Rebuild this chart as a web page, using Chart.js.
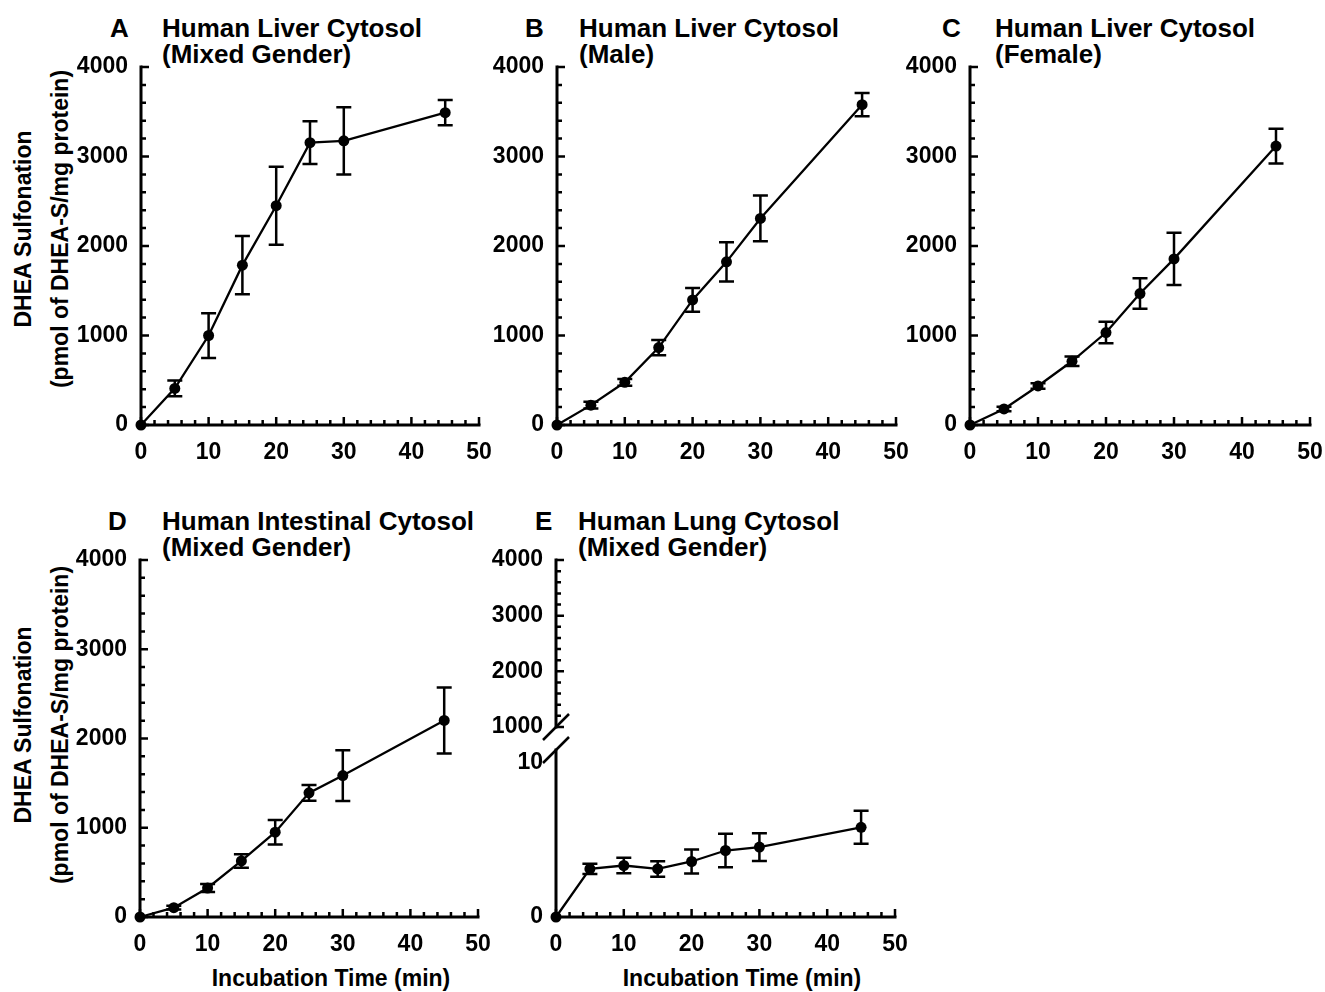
<!DOCTYPE html>
<html>
<head>
<meta charset="utf-8">
<title>DHEA Sulfonation time course</title>
<script src="https://cdn.jsdelivr.net/npm/chart.js@4.4.0/dist/chart.umd.min.js"></script>
<style>
  body { margin: 0; background: #fff; width: 1325px; height: 992px; position: relative; overflow: hidden;
         font-family: "Liberation Sans", Arial, Helvetica, sans-serif; font-weight: bold; color: #000; }
  .box { position: absolute; }
  .lbl { position: absolute; font-size: 26px; line-height: 26px; white-space: nowrap; }
  .ytitle { position: absolute; width: 420px; font-size: 23px; line-height: 37px; text-align: center;
            transform: translate(-50%, -50%) rotate(-90deg); white-space: nowrap; }
  .xtitle { position: absolute; font-size: 23px; line-height: 23px; transform: translateX(-50%); white-space: nowrap; }
</style>
</head>
<body>

<div class="lbl" style="left:110px; top:15px">A</div>
<div class="lbl" style="left:162px; top:15px">Human Liver Cytosol<br>(Mixed Gender)</div>
<div class="lbl" style="left:525px; top:15px">B</div>
<div class="lbl" style="left:579px; top:15px">Human Liver Cytosol<br>(Male)</div>
<div class="lbl" style="left:942px; top:15px">C</div>
<div class="lbl" style="left:995px; top:15px">Human Liver Cytosol<br>(Female)</div>
<div class="lbl" style="left:108px; top:508px">D</div>
<div class="lbl" style="left:162px; top:508px">Human Intestinal Cytosol<br>(Mixed Gender)</div>
<div class="lbl" style="left:535px; top:508px">E</div>
<div class="lbl" style="left:578px; top:508px">Human Lung Cytosol<br>(Mixed Gender)</div>

<div class="ytitle" style="left:42px; top:229px">DHEA Sulfonation<br>(pmol of DHEA-S/mg protein)</div>
<div class="ytitle" style="left:42px; top:725px">DHEA Sulfonation<br>(pmol of DHEA-S/mg protein)</div>
<div class="xtitle" style="left:331px; top:967px">Incubation Time (min)</div>
<div class="xtitle" style="left:742px; top:967px">Incubation Time (min)</div>

<script>
// incubation times (min)
const times = [0, 5, 10, 15, 20, 25, 30, 45];

// pmol DHEA-S / mg protein, mean and error
const liverMixed = [0, 409, 1000, 1786, 2450, 3155, 3175, 3490];
const liverMixedErr = [0, 88, 250, 325, 435, 240, 375, 140];
const liverMale = [0, 222, 477, 865, 1398, 1823, 2308, 3579];
const liverMaleErr = [0, 38, 38, 85, 134, 220, 255, 130];
const liverFemale = [0, 179, 436, 712, 1033, 1469, 1856, 3117];
const liverFemaleErr = [0, 25, 30, 52, 120, 170, 292, 194];
const intestMixed = [0, 105, 325, 628, 950, 1391, 1585, 2202];
const intestMixedErr = [0, 20, 45, 75, 137, 88, 284, 370];
const lungMixed = [0, 3.11, 3.33, 3.11, 3.59, 4.30, 4.52, 5.80];
const lungMixedErr = [0, 0.33, 0.5, 0.5, 0.78, 1.08, 0.9, 1.07];

// tick labels
const xTicks = [0, 10, 20, 30, 40, 50];
const yTicks = [0, 1000, 2000, 3000, 4000];
const yTicksUpper = [1000, 2000, 3000, 4000];
const yTicksLung = [0, 10];

const FONT = '"Liberation Sans", Arial, Helvetica, sans-serif';
Chart.defaults.font.family = FONT;
Chart.defaults.color = '#000';

// axis lines with inward ticks, plus the break slash for panel E
const axisPlugin = {
  id: 'sciAxes',
  beforeDatasetsDraw(chart, args, opts) {
    const ctx = chart.ctx;
    const xs = chart.scales.x, ys = chart.scales.y;
    const x0 = xs.getPixelForValue(xs.min), x1 = xs.getPixelForValue(xs.max);
    const y0 = ys.getPixelForValue(ys.min), y1 = ys.getPixelForValue(ys.max);
    ctx.save();
    ctx.strokeStyle = '#000';
    ctx.lineWidth = 3;
    ctx.lineCap = 'square';
    ctx.beginPath();
    ctx.moveTo(x0, y1);
    ctx.lineTo(x0, y0);
    if (opts.showX) ctx.lineTo(x1, y0);
    ctx.stroke();

    ctx.lineWidth = 2.5;
    ctx.lineCap = 'butt';
    ctx.beginPath();
    if (opts.showX) {
      for (let v = xs.min; v <= xs.max; v += 2) {
        const len = v % 10 === 0 ? 8 : 5;
        const px = xs.getPixelForValue(v);
        ctx.moveTo(px, y0);
        ctx.lineTo(px, y0 - len);
      }
    }
    if (opts.yMinor) {
      for (let v = ys.min; v <= ys.max; v += opts.yMinor) {
        const len = v % 1000 === 0 ? 8 : 5;
        const py = ys.getPixelForValue(v);
        ctx.moveTo(x0, py);
        ctx.lineTo(x0 + len, py);
      }
    }
    ctx.stroke();

    if (opts.breakAt) {
      const py = opts.breakAt === 'bottom' ? y0 : y1;
      ctx.beginPath();
      ctx.moveTo(x0 - 13, py + 13);
      ctx.lineTo(x0 + 13, py - 13);
      ctx.stroke();
    }
    ctx.restore();
  }
};

const errorBarPlugin = {
  id: 'errorBars',
  afterDatasetsDraw(chart) {
    const ctx = chart.ctx;
    const xs = chart.scales.x, ys = chart.scales.y;
    chart.data.datasets.forEach(ds => {
      if (!ds.errors) return;
      ctx.save();
      ctx.strokeStyle = '#000';
      ctx.lineWidth = 2.5;
      ds.data.forEach((p, i) => {
        const e = ds.errors[i];
        if (!e) return;
        const px = xs.getPixelForValue(p.x);
        const top = ys.getPixelForValue(p.y + e);
        const bot = ys.getPixelForValue(p.y - e);
        ctx.beginPath();
        ctx.moveTo(px, top); ctx.lineTo(px, bot);
        ctx.moveTo(px - 7.5, top); ctx.lineTo(px + 7.5, top);
        ctx.moveTo(px - 7.5, bot); ctx.lineTo(px + 7.5, bot);
        ctx.stroke();
      });
      ctx.restore();
    });
  }
};

function makePanel(area, opt) {
  const showX = opt.showX !== false;
  const padL = 75, padR = 30, padT = 20, padB = showX ? 45 : 30;
  const wrap = document.createElement('div');
  wrap.className = 'box';
  wrap.style.left = (area.l - padL) + 'px';
  wrap.style.top = (area.t - padT) + 'px';
  wrap.style.width = (area.r - area.l + padL + padR) + 'px';
  wrap.style.height = (area.b - area.t + padT + padB) + 'px';
  const canvas = document.createElement('canvas');
  wrap.appendChild(canvas);
  document.body.appendChild(wrap);

  const datasets = [];
  if (opt.values) {
    datasets.push({
      data: times.map((t, i) => ({ x: t, y: opt.values[i] })),
      errors: opt.errors,
      borderColor: '#000',
      backgroundColor: '#000',
      borderWidth: 2.3,
      pointRadius: 5.5,
      pointHoverRadius: 5.5,
      pointBorderWidth: 0,
      tension: 0,
      clip: false
    });
  }

  const tickFont = { family: FONT, size: 23, weight: 'bold' };
  return new Chart(canvas, {
    type: 'line',
    data: { datasets },
    options: {
      responsive: true,
      maintainAspectRatio: false,
      animation: false,
      layout: { padding: { left: 0, right: padR, top: padT, bottom: showX ? 0 : padB } },
      plugins: {
        legend: { display: false },
        tooltip: { enabled: false },
        sciAxes: { showX, yMinor: opt.yMinor, breakAt: opt.breakAt }
      },
      scales: {
        x: {
          type: 'linear',
          display: showX,
          min: 0, max: 50,
          afterBuildTicks: s => { s.ticks = xTicks.map(v => ({ value: v })); },
          afterFit: s => { if (showX) s.height = padB; },
          grid: { display: false },
          border: { display: false },
          ticks: { font: tickFont, color: '#000', padding: 6, autoSkip: false, maxRotation: 0,
                   callback: v => String(v) }
        },
        y: {
          type: 'linear',
          min: opt.yMin, max: opt.yMax,
          afterBuildTicks: s => { s.ticks = opt.yTicks.map(v => ({ value: v })); },
          afterFit: s => { s.width = padL; },
          grid: { display: false },
          border: { display: false },
          ticks: { font: tickFont, color: '#000', padding: 5, autoSkip: false,
                   callback: v => String(v) }
        }
      }
    },
    plugins: [axisPlugin, errorBarPlugin]
  });
}

makePanel({ l: 141, t: 67, r: 479, b: 425 },
  { values: liverMixed, errors: liverMixedErr, yMin: 0, yMax: 4000, yTicks, yMinor: 200 });
makePanel({ l: 557, t: 67, r: 896, b: 425 },
  { values: liverMale, errors: liverMaleErr, yMin: 0, yMax: 4000, yTicks, yMinor: 200 });
makePanel({ l: 970, t: 67, r: 1310, b: 425 },
  { values: liverFemale, errors: liverFemaleErr, yMin: 0, yMax: 4000, yTicks, yMinor: 200 });
makePanel({ l: 140, t: 560, r: 478, b: 917 },
  { values: intestMixed, errors: intestMixedErr, yMin: 0, yMax: 4000, yTicks, yMinor: 200 });
// panel E: broken y axis drawn as two stacked charts
makePanel({ l: 556, t: 560, r: 895, b: 727 },
  { showX: false, yMin: 1000, yMax: 4000, yTicks: yTicksUpper, yMinor: 200, breakAt: 'bottom' });
makePanel({ l: 556, t: 750, r: 895, b: 917 },
  { values: lungMixed, errors: lungMixedErr, yMin: 0, yMax: 10.8, yTicks: yTicksLung, breakAt: 'top' });
</script>
</body>
</html>
